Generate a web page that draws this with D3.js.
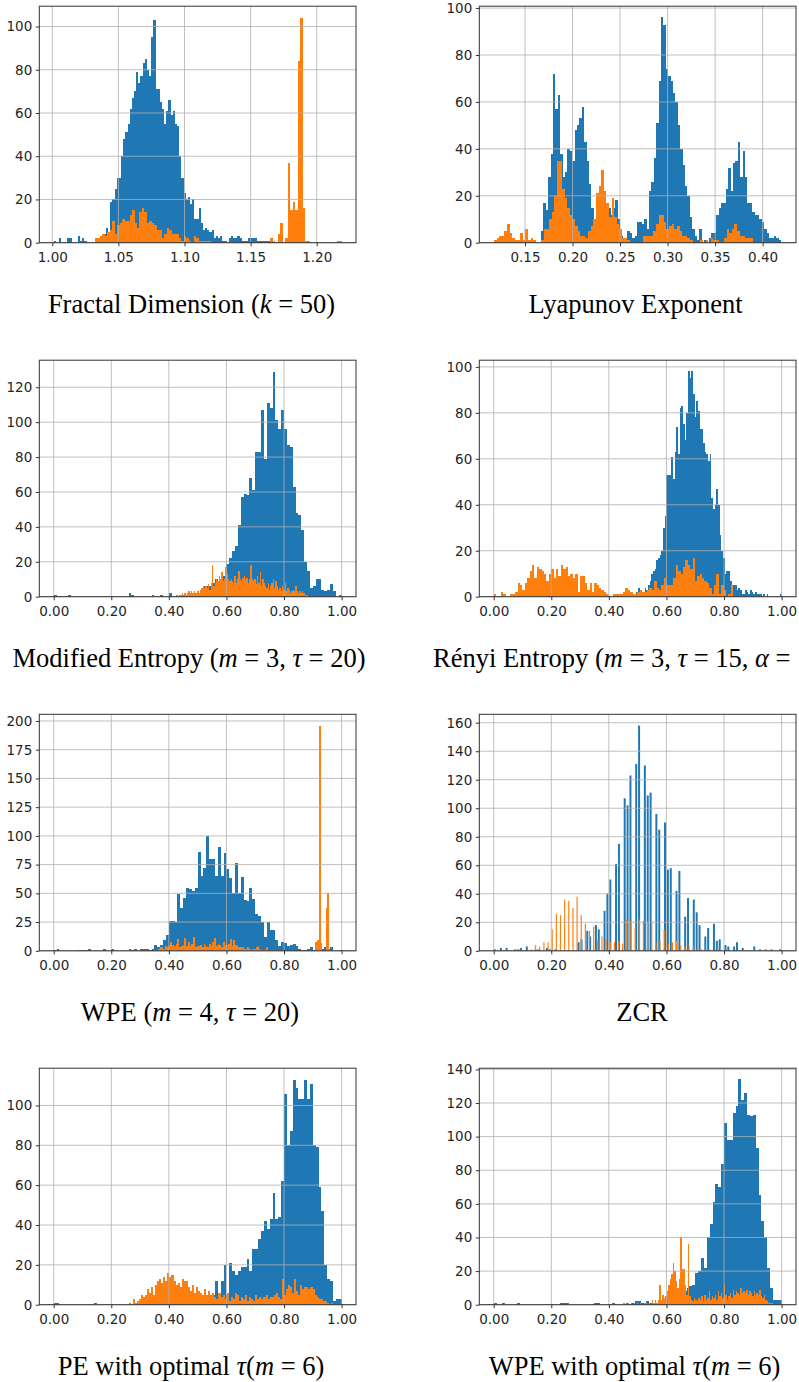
<!DOCTYPE html>
<html><head><meta charset="utf-8">
<script src="https://cdn.jsdelivr.net/npm/d3@7"></script>
<style>html,body{margin:0;padding:0;background:#fff;overflow:hidden}svg{display:block}</style>
</head><body><svg id="c" width="799" height="1382"></svg>
<script>
// ---------- DATA ----------
// Fractal Dimension
const fdBlueRange = [1.0015, 1.1644];
const fdBlue = [1,0,2,0,0,0,2,2,0,0, 0,3,1,2,1,0,0,0,0,0, 1,3,4,4,7,5,19,20,25,30,
  30,40,48,51,55,62,67,70,79,74, 77,83,85,80,77,95,103,71,71,65, 62,55,61,66,59,61,55,54,40,30,
  23,20,21,18,20,11,11,16,9,6, 7,6,5,6,2,3,2,3,1,1, 0,2,3,2,2,3,2,1,1,1, 2,2,2,2,1,1,1,1,1,1];
const fdOrangeRange = [1.0323, 1.2192];
const fdOrange = [2,2,3,4,3,5,6,10,4,8, 9,11,10,10,13,15,9,7,14,16, 14,9,10,9,8,6,6,2,4,7,
  6,4,4,4,2,1,3,2,1,0, 3,2,1,1,1,1,1,0,0,0, 0,0,0,0,0,0,0,0,0,0, 0,0,0,0,0,0,0,0,0,0,
  0,2,1,0,4,9,0,2,37,15, 19,15,84,104,16,1,1,0,0,0, 0,0,0,0,0,0,0,0,1,1];
const fdXTicks = [1.00, 1.05, 1.10, 1.15, 1.20];
const fdYTicks = [0, 20, 40, 60, 80, 100];

// Lyapunov Exponent
const leBlueRange = [0.1668, 0.4193];
const leBlue = [5,17,14,28,38,72,57,63,38,28, 30,40,39,35,48,50,53,58,43,35, 25,15,10,8,24,20,22,16,15,12,
  15,18,10,3,2,2,5,4,2,3, 9,9,8,10,6,22,26,36,51,69, 96,93,74,71,69,64,60,50,40,33,
  24,20,11,6,3,1,6,0,1,0, 2,4,4,12,15,17,17,23,32,22, 34,35,43,28,39,28,17,17,13,12,
  12,10,9,6,4,2,2,3,2,1];
const leOrangeRange = [0.1174, 0.3895];
const leOrange = [1,2,3,3,5,8,4,2,1,1, 4,1,6,1,2,1,0,0,1,6, 6,10,13,20,35,35,23,19,15,12,
  10,7,5,3,3,2,5,7,10,21, 24,31,22,17,11,19,11,8,6,2, 2,1,0,0,0,0,0,3,3,3,
  3,5,8,12,12,9,6,7,8,6, 7,5,3,3,2,1,0,0,0,1, 0,1,0,2,1,1,0,0,2,6, 4,6,8,5,3,3,2,2,2];
const leXTicks = [0.15, 0.20, 0.25, 0.30, 0.35, 0.40];
const leYTicks = [0, 20, 40, 60, 80, 100];

// Modified Entropy
const meBlueRange = [0, 1];
const meBlue = [1,0,0,0,0,1,0,0,0,0, 0,0,0,0,0,0,0,0,0,0, 0,0,0,0,0,0,2,1,0,0,
  0,0,0,0,1,0,0,1,0,0, 2,0,0,0,0,1,1,1,2,2, 2,4,6,6,6,8,10,9,12,12,
  19,22,26,29,41,57,59,58,68,61, 83,83,107,79,111,108,129,101,96,107,
  96,87,86,63,48,47,38,20,15,5, 6,10,10,4,3,4,7,3,0,1];
const meOrangeRange = [0.426, 0.885];
const meOrange = [1,0,1,1,2,1,2,1, 2,3,2,3,2,3,2,2,3,2, 4,5,6,5,6,5,7,4,8,18,
  6,8,10,9,12,10,14,9,10,17, 13,10,9,10,9,8,12,8,10,15, 10,9,11,12,10,11,8,10,18,10,
  9,10,7,12,8,14,6,10,8,6, 5,8,4,6,8,10,5,9,6,4, 5,3,6,4,8,3,5,4,2,3, 4,3,6,3,2,3,2,3,2,1,1,1];
const unitXTicks = [0, 0.2, 0.4, 0.6, 0.8, 1.0];
const meYTicks = [0, 20, 40, 60, 80, 100, 120];

// Renyi Entropy
const reBlueRange = [0.42, 1.0];
const reBlue = [1,0,0,0,0,2,0,0,0,0, 1,0,1,2,4,2,2,2,4,3, 5,7,10,11,12,16,17,18,20,30,
  35,53,53,53,61,51,63,74,62,82, 83,75,68,80,98,95,98,88,78,85, 81,73,73,67,63,62,59,62,43,38,
  40,47,40,27,20,17,10,11,11,7, 4,5,5,3,4,3,1,1,3,2, 1,3,2,1,2,1,1,1,0,1, 0,1,0,0,0,0,0,0,0,1];
const reOrangeRange = [0.0, 0.832];
const reOrange = [1,0,0,2,1,0,0,1,1,2, 6,5,3,6,8,11,14,8,13,12, 11,10,7,10,12,8,12,9,14,12,
  13,9,10,8,10,2,9,9,6,3, 6,2,6,5,4,3,2,1,0,0, 1,1,1,1,2,4,3,2,1,1,
  2,3,2,2,3,4,3,7,4,3, 5,8,5,5,5,8,14,11,10,13, 16,14,12,17,7,9,10,8,7,6, 4,1,5,10,1,5,3,0,1,5];
const reYTicks = [0, 20, 40, 60, 80, 100];

// WPE (m=4, tau=20)
const wpeBlueRange = [0, 1];
const wpeBlue = [1,2,0,0,0,0,0,0,1,1, 1,1,2,0,0,0,0,2,0,0, 2,0,0,0,0,0,2,1,2,0,
  2,2,2,1,2,5,3,5,9,14, 26,26,25,49,37,46,55,54,52,55, 86,65,72,100,80,80,65,90,65,85,
  71,63,50,76,50,64,44,43,55,45, 32,30,25,12,25,18,18,9,4,8, 7,4,5,6,4,2,1,1,2,3, 1,3,1,2,3,2,3,0,0,1];
const wpeOrangeRange = [0.351, 0.957];
const wpeOrange = [1,1,2,3,3,2,4, 3,5,8,5,4,6,10,3, 4,5,11,4,8,4,6,12, 3,4,4,5,3,6,4,3,
  6,4,8,11,4,6,5,3, 8,5,5,6,10,4,9,5, 4,3,3,3,2,2,3,2, 1,2,2,3,4,2,1,1, 2,3,1,1,1,0,1,1,
  1,0,1,0,0,0,0,0, 0,0,0,0,0,0,0,0, 0,0,0,0,0, 8,9,196,7,0,0,37,50];
const wpeYTicks = [0, 25, 50, 75, 100, 125, 150, 175, 200];

// ZCR
const zcrBlueRange = [0, 1];
const zcrBlue = [1,0,2,0,2,0,0,1,1,2, 0,3,0,0,1,1,0,0,2,1, 0,1,0,0,0,0,0,0,0,6,
  8,0,14,10,0,18,15,0,28,40, 50,0,61,75,0,107,102,123,0,131, 158,0,130,109,111,0,96,85,0,90,
  57,58,0,42,56,0,24,37,0,36, 27,18,0,10,16,0,19,7,8,0, 4,3,0,3,6,0,2,0,0,0, 3,0,1,0,1,0,1,0,0,1];
const zcrOrangeRange = [0.07, 0.79];
const zcrOrange = [1,0,1,0,0,0,1,0,1,0, 4,0,3,0,6,0,6,0,15,0, 26,0,25,0,36,0,35,0,30,0,
  38,0,25,0,19,0,14,0,17,0, 7,0,10,0,8,0,6,0,6,0, 7,0,5,0,22,0,21,0,16,0,
  22,0,21,0,20,0,21,0,6,0, 6,0,15,0,5,0,6,0,7,0, 4,0,3,0,4,0,3,0,2,0, 1,0,1,0,1,0,0,0,1,0];
const zcrYTicks = [0, 20, 40, 60, 80, 100, 120, 140, 160];

// PE with optimal tau
const peBlueRange = [0, 1];
const peBlue = [1,1,0,0,0,0,0,0,0,0, 0,0,0,0,1,0,0,0,0,0, 0,0,0,0,0,0,0,0,0,0,
  0,0,0,0,0,0,0,0,0,0, 0,0,0,0,0,0,0,0,0,2, 3,2,4,5,4,5,12,5,12,20,
  5,21,17,15,17,19,19,23,17,28, 28,33,37,42,38,43,56,43,44,62,
  106,80,87,113,109,103,103,113,103,111, 80,79,59,47,20,13,12,2,3,3];
const peOrangeRange = [0.26, 0.97];
const peOrange = [1,0,3,1,2,3,5,4,5,8, 6,9,5,10,12,13,11,14,12,16, 14,15,12,10,11,9,13,12,12,9,
  7,10,6,9,7,6,5,8,5,7, 5,6,4,3,6,4,5,3,6,2, 4,3,6,5,2,4,3,5,2,4,
  3,2,5,3,4,3,4,5,3,4, 4,5,6,4,3,13,5,8,10,9, 6,13,7,5,10,8,9,9,8,9, 8,5,4,3,3,2,2,1,0,1];
const peYTicks = [0, 20, 40, 60, 80, 100];

// WPE with optimal tau
const wpoBlueRange = [0, 1];
const wpoBlue = [1,0,0,1,0,0,0,0,1,0, 0,0,0,0,0,0,0,0,0,0, 0,0,0,1,1,1,0,0,0,0,
  0,0,0,0,0,1,1,0,0,0, 0,1,0,0,0,0,1,0,1,2, 2,1,1,2,1,1,1,2,3,3,
  3,4,5,5,6,6,8,10,11,12, 19,20,28,22,40,48,61,72,70,84,
  108,98,98,114,118,134,122,126,113,112, 113,93,65,50,40,22,10,3,3,3];
const wpoOrangeRange = [0.45, 0.97];
const wpoOrange = [1,0,0,1,0,1,0,1,0,1, 0,1,0,0,1,1,0,1,0,3, 1,3,1,3,12,3,6,4,5,8,
  12,15,18,25,20,14,10,15,40,21, 21,12,6,36,5,3,2,4,3,2, 4,3,5,2,6,3,4,8,3,5,
  4,6,3,8,5,7,4,12,6,3, 5,7,4,9,6,8,7,6,10,7, 8,7,9,6,8,7,5,8,6,7, 6,9,5,4,6,3,2,1,1,1];
const wpoYTicks = [0, 20, 40, 60, 80, 100, 120, 140];

// Captions (segments; italic flag for math symbols)
const captionFD  = [["Fractal Dimension (",0],["k",1],[" = 50)",0]];
const captionLE  = [["Lyapunov Exponent",0]];
const captionME  = [["Modified Entropy (",0],["m",1],[" = 3, ",0],["τ",1],[" = 20)",0]];
const captionRE  = [["Rényi Entropy (",0],["m",1],[" = 3, ",0],["τ",1],[" = 15, ",0],["α",1],[" =",0]];
const captionWPE = [["WPE (",0],["m",1],[" = 4, ",0],["τ",1],[" = 20)",0]];
const captionZCR = [["ZCR",0]];
const captionPE  = [["PE with optimal ",0],["τ",1],["(",0],["m",1],[" = 6)",0]];
const captionWPO = [["WPE with optimal ",0],["τ",1],["(",0],["m",1],[" = 6)",0]];

// ---------- LAYOUT ----------
const BLUE = "#1f77b4", ORANGE = "#ff7f0e";
const colX = [39.3, 479.3], rowY = [6.2, 360.2, 714.3, 1068.2];
const PW = 316.7, PH = 236.5;
const capBase = [313, 667, 1021, 1375];

const panels = [
  {c:0,r:0, blue:fdBlue, bR:fdBlueRange, orange:fdOrange, oR:fdOrangeRange, xd:[0.99017,1.2297], ymax:109.4, xt:fdXTicks, yt:fdYTicks, cap:captionFD, capX:191.5},
  {c:1,r:0, blue:leBlue, bR:leBlueRange, orange:leOrange, oR:leOrangeRange, xd:[0.1019,0.4351], ymax:100.8, xt:leXTicks, yt:leYTicks, cap:captionLE, capX:635.6},
  {c:0,r:1, blue:meBlue, bR:meBlueRange, orange:meOrange, oR:meOrangeRange, xd:[-0.05,1.05], ymax:135.5, xt:unitXTicks, yt:meYTicks, cap:captionME, capX:189},
  {c:1,r:1, blue:reBlue, bR:reBlueRange, orange:reOrange, oR:reOrangeRange, xd:[-0.05,1.05], ymax:102.9, xt:unitXTicks, yt:reYTicks, cap:captionRE, capX:433, anchor:"start"},
  {c:0,r:2, blue:wpeBlue, bR:wpeBlueRange, orange:wpeOrange, oR:wpeOrangeRange, xd:[-0.05,1.05], ymax:205.8, xt:unitXTicks, yt:wpeYTicks, cap:captionWPE, capX:190},
  {c:1,r:2, blue:zcrBlue, bR:zcrBlueRange, orange:zcrOrange, oR:zcrOrangeRange, xd:[-0.05,1.05], ymax:165.9, xt:unitXTicks, yt:zcrYTicks, cap:captionZCR, capX:642, gap:true},
  {c:0,r:3, blue:peBlue, bR:peBlueRange, orange:peOrange, oR:peOrangeRange, xd:[-0.05,1.05], ymax:118.7, xt:unitXTicks, yt:peYTicks, cap:captionPE, capX:191},
  {c:1,r:3, blue:wpoBlue, bR:wpoBlueRange, orange:wpoOrange, oR:wpoOrangeRange, xd:[-0.05,1.05], ymax:140.7, xt:unitXTicks, yt:wpoYTicks, cap:captionWPO, capX:634.5}
];

const svg = d3.select("#c");

panels.forEach(p => {
  const g = svg.append("g").attr("transform", `translate(${colX[p.c]},${rowY[p.r]})`);
  const x = d3.scaleLinear().domain(p.xd).range([0, PW]);
  const y = d3.scaleLinear().domain([0, p.ymax]).range([PH, 0]);

  function drawSeries(counts, range, color, cls) {
    const w = (range[1] - range[0]) / counts.length;
    const bins = counts.map((c, i) => ({x0: range[0] + i*w, x1: range[0] + (i+1)*w, c})).filter(d => d.c > 0);
    const inset = p.gap ? 0.45 : 0;
    g.append("g").attr("class", cls)
      .attr("shape-rendering", p.gap ? "geometricPrecision" : "crispEdges")
      .selectAll("rect").data(bins).join("rect")
      .attr("x", d => x(d.x0) + inset)
      .attr("width", d => Math.max(0.4, x(d.x1) - x(d.x0) - 2*inset))
      .attr("y", d => y(d.c))
      .attr("height", d => y(0) - y(d.c))
      .attr("fill", color);
  }
  drawSeries(p.blue, p.bR, BLUE, "blue");
  drawSeries(p.orange, p.oR, ORANGE, "orange");

  // grid
  const grid = g.append("g").attr("class", "grid");
  grid.selectAll("line.v").data(p.xt).join("line").attr("class","v")
    .attr("x1", d => x(d)).attr("x2", d => x(d)).attr("y1", 0).attr("y2", PH)
    .attr("stroke", "#b0b0b0").attr("stroke-width", 0.8);
  grid.selectAll("line.h").data(p.yt).join("line").attr("class","h")
    .attr("x1", 0).attr("x2", PW).attr("y1", d => y(d)).attr("y2", d => y(d))
    .attr("stroke", "#b0b0b0").attr("stroke-width", 0.8);

  // frame
  g.append("rect").attr("x", 0).attr("y", 0).attr("width", PW).attr("height", PH)
    .attr("fill", "none").attr("stroke", "#333").attr("stroke-width", 1);

  const fmt = d3.format(".2f");
  const xa = g.append("g").attr("transform", `translate(0,${PH})`)
    .call(d3.axisBottom(x).tickValues(p.xt).tickFormat(fmt).tickSize(3.5).tickPadding(5.9));
  const ya = g.append("g")
    .call(d3.axisLeft(y).tickValues(p.yt).tickFormat(d3.format("d")).tickSize(3.5).tickPadding(3.5));
  [xa, ya].forEach(a => {
    a.select(".domain").remove();
    a.selectAll("line").attr("stroke", "#333");
    a.selectAll("text").attr("font-family", "DejaVu Sans").attr("font-size", "13.5px").attr("fill", "#262626");
  });

  // caption
  const t = svg.append("text")
    .attr("x", p.capX).attr("y", capBase[p.r])
    .attr("text-anchor", p.anchor || "middle")
    .attr("font-family", "Liberation Serif, Times New Roman, serif")
    .attr("font-size", "26.5px").attr("fill", "#000");
  p.cap.forEach(([s, it]) => {
    t.append("tspan").text(s).attr("font-style", it ? "italic" : "normal");
  });
});
</script>
</body></html>
